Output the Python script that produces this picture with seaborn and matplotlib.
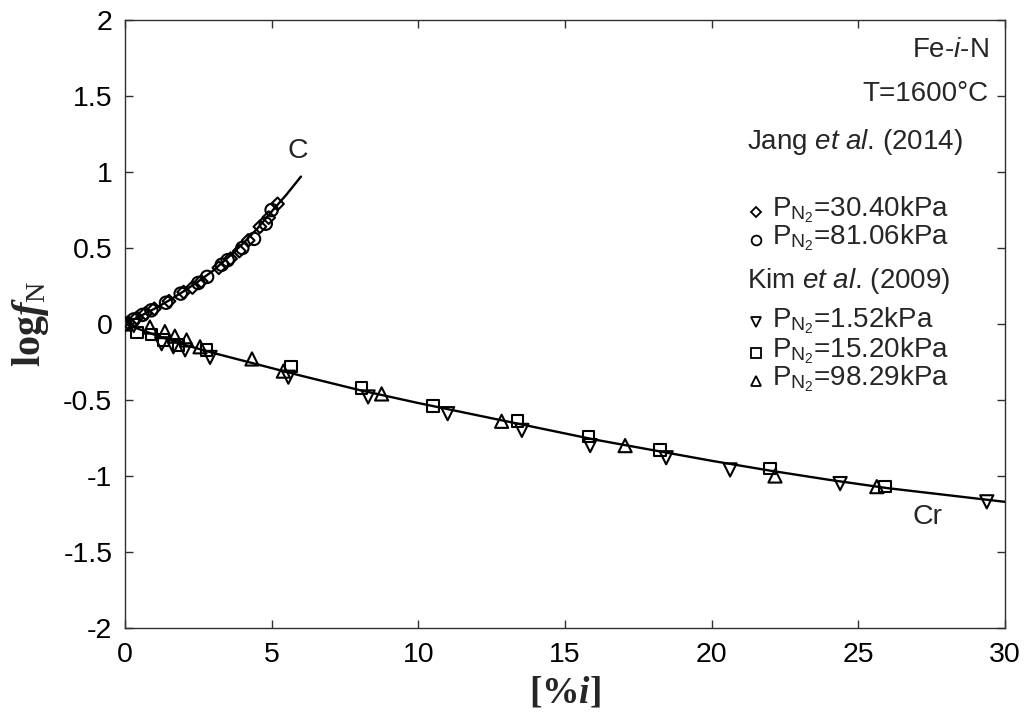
import matplotlib
matplotlib.use('Agg')
import pandas as pd
import matplotlib.pyplot as plt
import seaborn as sns

# curvas calculadas
c_curve_x = [0, 0.5, 1, 1.5, 2, 2.5, 3, 3.5, 4, 4.5, 5, 5.5, 6.0]
c_curve_y = [0, 0.05, 0.10, 0.155, 0.215, 0.28, 0.35, 0.435, 0.525, 0.625, 0.74, 0.85, 0.97]
cr_curve_x = [0, 1, 2, 3, 4, 5, 6, 8, 10, 12, 14, 16, 18, 20, 22, 24, 26, 28, 30]
cr_curve_y = [0, -0.07, -0.135, -0.19, -0.24, -0.29, -0.34, -0.435, -0.52, -0.60, -0.68,
              -0.76, -0.83, -0.90, -0.965, -1.025, -1.08, -1.125, -1.17]

# Jang et al. (2014) - C
jang_304_x = [0.1, 0.4, 0.7, 1.0, 1.5, 2.0, 2.3, 2.6, 3.2, 3.6, 3.9, 4.2, 4.6, 4.9, 5.2]
jang_304_y = [0.01, 0.04, 0.07, 0.10, 0.15, 0.21, 0.24, 0.28, 0.37, 0.43, 0.48, 0.55, 0.64, 0.70, 0.79]
jang_811_x = [0.0, 0.3, 0.6, 0.9, 1.4, 1.9, 2.5, 2.8, 3.3, 3.5, 4.0, 4.4, 4.8, 5.0]
jang_811_y = [0.0, 0.03, 0.06, 0.09, 0.14, 0.20, 0.27, 0.31, 0.39, 0.42, 0.50, 0.56, 0.66, 0.75]

# Kim et al. (2009) - Cr
kim_152_x = [0.3, 1.25, 1.65, 2.05, 2.9, 5.57, 8.29, 11.0, 13.53, 15.86, 18.45, 20.63, 24.38, 29.38]
kim_152_y = [-0.01, -0.13, -0.15, -0.17, -0.22, -0.35, -0.48, -0.59, -0.70, -0.80, -0.88, -0.96, -1.05, -1.17]
kim_1520_x = [0.4, 0.91, 1.31, 1.82, 2.78, 5.66, 8.07, 10.5, 13.38, 15.8, 18.25, 21.99, 25.9]
kim_1520_y = [-0.057, -0.07, -0.105, -0.14, -0.17, -0.28, -0.42, -0.54, -0.64, -0.74, -0.83, -0.95, -1.07]
kim_9829_x = [0.0, 0.85, 1.36, 1.7, 2.1, 2.56, 4.33, 5.4, 8.75, 12.84, 17.05, 22.16, 25.63]
kim_9829_y = [0.0, -0.02, -0.05, -0.08, -0.105, -0.15, -0.23, -0.31, -0.46, -0.64, -0.80, -1.0, -1.07]

legenda_series = ['P$_{\\mathrm{N}_{\\mathrm{2}}}$=30.40kPa', 'P$_{\\mathrm{N}_{\\mathrm{2}}}$=81.06kPa',
                  'P$_{\\mathrm{N}_{\\mathrm{2}}}$=1.52kPa', 'P$_{\\mathrm{N}_{\\mathrm{2}}}$=15.20kPa',
                  'P$_{\\mathrm{N}_{\\mathrm{2}}}$=98.29kPa']

sns.set_style('ticks')
plt.rcParams['font.family'] = ['Liberation Sans', 'DejaVu Sans']
plt.rcParams['mathtext.fontset'] = 'custom'
plt.rcParams['mathtext.rm'] = 'Liberation Sans'
plt.rcParams['mathtext.sf'] = 'Liberation Sans:italic'
plt.rcParams['mathtext.bf'] = 'Liberation Serif:bold'
plt.rcParams['mathtext.it'] = 'Liberation Serif:bold:italic'
plt.rcParams['mathtext.cal'] = 'Liberation Serif'

cinza = '#303030'
fig = plt.figure(figsize=(10.26, 7.15), dpi=100)
ax = fig.add_axes([0.1218, 0.1217, 0.8577, 0.8503])

sns.lineplot(x=c_curve_x, y=c_curve_y, sort=False, estimator=None, color='black', lw=1.7, ax=ax)
sns.lineplot(x=cr_curve_x, y=cr_curve_y, sort=False, estimator=None, color='black', lw=1.7, ax=ax)

kw = dict(facecolor='none', edgecolor='black', linewidth=1.5, zorder=3, ax=ax, legend=False)
sns.scatterplot(x=jang_304_x, y=jang_304_y, marker='D', s=42, **kw)
sns.scatterplot(x=jang_811_x, y=jang_811_y, marker='o', s=80, **kw)
sns.scatterplot(x=kim_152_x, y=kim_152_y, marker='v', s=90, **kw)
sns.scatterplot(x=kim_1520_x, y=kim_1520_y, marker='s', s=70, **kw)
sns.scatterplot(x=kim_9829_x, y=kim_9829_y, marker='^', s=90, **kw)

ax.set_xlim(0, 30)
ax.set_ylim(-2, 2)
ax.set_xticks([0, 5, 10, 15, 20, 25, 30])
ax.set_yticks([-2, -1.5, -1, -0.5, 0, 0.5, 1, 1.5, 2])
ax.set_yticklabels(['-2', '-1.5', '-1', '-0.5', '0', '0.5', '1', '1.5', '2'])
ax.tick_params(direction='in', top=True, right=True, length=6, width=1, color=cinza,
               labelsize=20.5, labelcolor='black')
ax.tick_params(axis='x', pad=10)
ax.tick_params(axis='y', pad=9)
for s in ax.spines.values():
    s.set_color(cinza)
    s.set_linewidth(1.0)

ax.set_xlabel(r'$\mathbf{[\%}\mathit{i}\mathbf{]}$', fontsize=27, labelpad=5)
ax.set_ylabel(r'$\mathbf{log}\mathit{f}_{\mathcal{N}}$', fontsize=29, labelpad=9)

ax.text(5.9, 1.14, 'C', fontsize=20.5, ha='center', va='center')
ax.text(27.36, -1.27, 'Cr', fontsize=20.5, ha='center', va='center')

# legenda manual
fs = 20
ax.text(29.45, 1.80, r'Fe-$\mathsf{i}$-N', fontsize=fs, ha='right', va='center')
ax.text(29.45, 1.51, 'T=1600°C', fontsize=fs, ha='right', va='center')
ax.text(21.2, 1.20, r'Jang $\mathsf{et\ al}$. (2014)', fontsize=fs, ha='left', va='center')
ax.text(21.2, 0.28, r'Kim $\mathsf{et\ al}$. (2009)', fontsize=fs, ha='left', va='center')
leg_y = [0.74, 0.55, 0.01, -0.19, -0.375]
leg_m = ['D', 'o', 'v', 's', '^']
leg_ms = [5, 7, 7, 6.5, 7]
for y, m, ms, lab in zip(leg_y, leg_m, leg_ms, legenda_series):
    ax.plot([21.5], [y], marker=m, ms=ms, mfc='none', mec='black', mew=1.3, ls='none')
    ax.text(22.05, y + 0.015, lab, fontsize=fs, ha='left', va='center')

fig.savefig('out.png', dpi=100)
